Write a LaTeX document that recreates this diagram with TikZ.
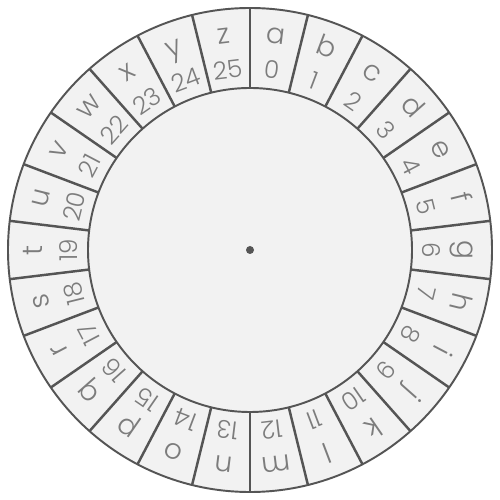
\documentclass[tikz,border=0pt]{standalone}
\usepackage{fontspec}
\setmainfont{Poppins Light}
\usepackage{tikz}
\definecolor{wheelfill}{HTML}{F2F2F2}
\definecolor{wheelline}{HTML}{555555}
\definecolor{wheeltext}{HTML}{7C7C7C}
\tikzset{
 cw ring/.style={draw=wheelline,line width=1.1pt,fill=wheelfill},
 cw spoke/.style={draw=wheelline,line width=1.4pt},
 cw letter/.style={anchor=base,inner sep=0pt,text=wheeltext,
                   font=\fontsize{16}{16}\selectfont},
 cw number/.style={anchor=base,inner sep=0pt,text=wheeltext,
                   font=\fontsize{14}{14}\selectfont},
 cw hub/.style={circle,fill=wheelline,minimum size=0.16cm,inner sep=0pt}
}
\begin{document}
\begin{tikzpicture}
 \useasboundingbox (-5,-5) rectangle (5,5);
 \fill[white] (-5,-5) rectangle (5,5);
 % outer disc carries the letters, inner disc is the plain centre
 \draw[cw ring] (0,0) circle (4.84);
 \draw[cw ring] (0,0) circle (3.24);
 \foreach \k in {0,...,25}
  \draw[cw spoke] ({90-\k*360/26}:3.24) -- ({90-\k*360/26}:4.84);
 % one letter and its index per sector, read from outside
 \foreach \l [count=\k from 0] in {a,...,z} {
  \pgfmathsetmacro\t{90-(\k+0.5)*360/26}
  \pgfmathsetmacro\r{\t-90}
  \node[cw letter,rotate=\r] (l\k) at (\t:4.15) {\l};
  \node[cw number,rotate=\r] (n\k) at (\t:3.45) {\k};
 }
 \node[cw hub] (hub) at (0,0) {};
\end{tikzpicture}
\end{document}
